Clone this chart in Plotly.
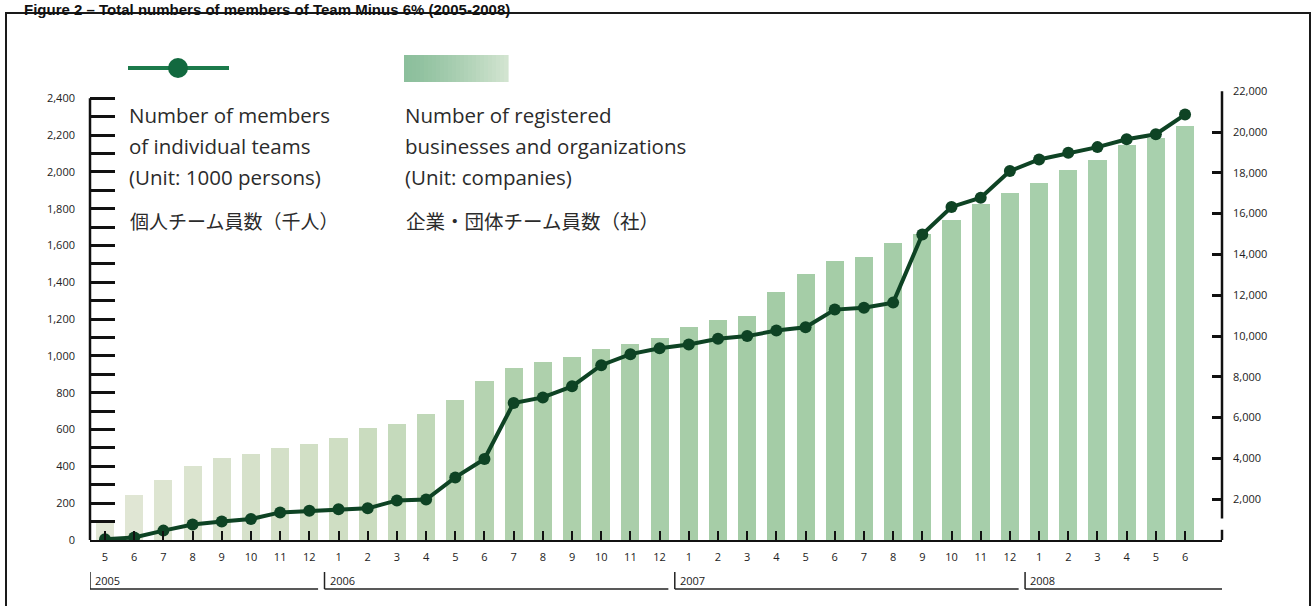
import plotly.graph_objects as go

# ---------------- data ----------------
months = ["5", "6", "7", "8", "9", "10", "11", "12",
          "1", "2", "3", "4", "5", "6", "7", "8", "9", "10", "11", "12",
          "1", "2", "3", "4", "5", "6", "7", "8", "9", "10", "11", "12",
          "1", "2", "3", "4", "5", "6"]
years = ["2005", "2006", "2007", "2008"]
year_start_index = [0, 8, 20, 32]

# registered businesses and organizations (companies) - right axis
companies = [900, 2200, 2920, 3620, 4000, 4240, 4500, 4730, 5020, 5470, 5680, 6160,
             6880, 7770, 8450, 8710, 8990, 9340, 9600, 9880,
             10420, 10800, 10960, 12170, 13050, 13700, 13880, 14580, 15000, 15700,
             16450, 17020, 17510, 18150, 18650, 19380, 19700, 20300]

# members of individual teams (1000 persons) - left axis
members = [4, 14, 51, 84, 100, 114, 150, 159, 167, 172, 215, 220,
           340, 440, 745, 775, 835, 950, 1010, 1042,
           1062, 1094, 1108, 1138, 1156, 1252, 1262, 1290, 1660, 1810,
           1860, 2005, 2068, 2104, 2135, 2178, 2205, 2312]

left_ticks = list(range(0, 2401, 200))
right_ticks = list(range(2000, 22001, 2000))

# ---------------- geometry helpers ----------------
W, H = 1314, 606
L, R, T, B = 90, 1222, 91, 540


def px2x(px):
    return (px - L) / (R - L)


def px2y(py):
    return (B - py) / (B - T)


def mix(c1, c2, t):
    a = [int(c1[i:i + 2], 16) for i in (1, 3, 5)]
    b = [int(c2[i:i + 2], 16) for i in (1, 3, 5)]
    return "#" + "".join(f"{round(a[k] + (b[k] - a[k]) * t):02x}" for k in range(3))


anchors = [(0, "#e2e7d6"), (8, "#cfdec3"), (14, "#b0d1ad"), (22, "#a4cca6"), (37, "#a8d0ad")]


def bar_color(i):
    for (i0, c0), (i1, c1) in zip(anchors[:-1], anchors[1:]):
        if i0 <= i <= i1:
            return mix(c0, c1, (i - i0) / (i1 - i0))
    return anchors[-1][1]


n = len(months)
xs = list(range(n))
xmin = -15 / 29.19
xmax = xmin + (R - L) / 29.19

fig = go.Figure()
fig.add_trace(go.Bar(
    x=xs, y=companies, width=0.62,
    marker=dict(color=[bar_color(i) for i in xs], line=dict(width=0)),
    yaxis="y", showlegend=False, hoverinfo="y"))
fig.add_trace(go.Scatter(
    x=xs, y=members, mode="lines+markers",
    line=dict(color="#0e4324", width=4),
    marker=dict(color="#0e4324", size=12),
    yaxis="y2", showlegend=False))

tickfont = dict(family="Open Sans", size=11, color="#222222")

fig.update_layout(
    width=W, height=H,
    margin=dict(l=L, r=W - R, t=T, b=H - B),
    paper_bgcolor="white", plot_bgcolor="white",
    bargap=0,
    xaxis=dict(range=[xmin, xmax], tickvals=xs, ticktext=months,
               showgrid=False, zeroline=False, showline=True, linecolor="#111111",
               linewidth=2, ticks="inside", ticklen=9, tickwidth=2, tickcolor="#111111",
               tickfont=tickfont, ticklabelstandoff=6),
    yaxis=dict(range=[0, 22010], side="right", tickvals=right_ticks,
               tickformat=",d", showgrid=False, zeroline=False, showline=False,
               ticks="inside", ticklen=10, tickwidth=3, tickcolor="#111111",
               tickfont=tickfont, ticklabelstandoff=10),
    yaxis2=dict(range=[0, 2440], overlaying="y", side="left", tickvals=left_ticks,
                tickformat=",d", showgrid=False, zeroline=False, showline=False,
                ticks="inside", ticklen=25, tickwidth=3, tickcolor="#111111",
                minor=dict(dtick=100, ticks="inside", ticklen=25, tickwidth=3,
                           tickcolor="#111111"),
                tickfont=tickfont, ticklabelstandoff=14),
)

shapes = []
# axis lines
shapes.append(dict(type="line", xref="paper", yref="y2", x0=0, x1=0, y0=0, y1=2400,
                   line=dict(color="#111111", width=2.5)))
shapes.append(dict(type="line", xref="paper", yref="y", x0=1, x1=1, y0=1050, y1=22000,
                   line=dict(color="#111111", width=2.5)))
shapes.append(dict(type="line", xref="paper", yref="y", x0=1, x1=1, y0=0, y1=500,
                   line=dict(color="#111111", width=2.5)))
# year brackets
bounds = [xmin] + [s - 0.5 for s in year_start_index[1:]] + [xmax]
for k, yr in enumerate(years):
    x0 = bounds[k] if k == 0 else bounds[k] + 0.02
    x1 = bounds[k + 1] - 0.2 if k < len(years) - 1 else bounds[k + 1]
    shapes.append(dict(type="line", xref="x", yref="paper", x0=x0, x1=x0,
                       y0=px2y(572), y1=px2y(589), line=dict(color="#222222", width=1.5)))
    shapes.append(dict(type="line", xref="x", yref="paper", x0=x0, x1=x1,
                       y0=px2y(589), y1=px2y(589), line=dict(color="#222222", width=1.5)))
    fig.add_annotation(x=x0, xref="x", y=px2y(580), yref="paper", text=yr,
                       showarrow=False, xanchor="left", yanchor="middle", xshift=3,
                       font=dict(family="Open Sans", size=11, color="#222222"))
# legend line sample
shapes.append(dict(type="line", xref="paper", yref="paper", x0=px2x(128), x1=px2x(229),
                   y0=px2y(68), y1=px2y(68), line=dict(color="#1c7a4b", width=4)))
shapes.append(dict(type="circle", xref="paper", yref="paper", x0=px2x(168), x1=px2x(188),
                   y0=px2y(78), y1=px2y(58), fillcolor="#12693f", line=dict(width=0)))
# legend bar sample (gradient)
nslice = 26
for k in range(nslice):
    t = k / (nslice - 1)
    c = mix("#8cbf9c", "#d2e4d0", t ** 1.3)
    shapes.append(dict(type="rect", xref="paper", yref="paper",
                       x0=px2x(404 + 104 * k / nslice), x1=px2x(404 + 104 * (k + 1) / nslice + 0.6),
                       y0=px2y(82), y1=px2y(55), fillcolor=c, line=dict(width=0)))
# outer frame
shapes.append(dict(type="rect", xref="paper", yref="paper", x0=px2x(6), x1=px2x(1310),
                   y0=px2y(625), y1=px2y(13), line=dict(color="#1a1a1a", width=2)))
fig.update_layout(shapes=shapes)

legend_font = dict(family="Open Sans", size=20.5, color="#2b2b2b")
left_lines = ["Number of members", "of individual teams", "(Unit: 1000 persons)"]
right_lines = ["Number of registered", "businesses and organizations", "(Unit: companies)"]
for j, (a, b) in enumerate(zip(left_lines, right_lines)):
    ypx = 115 + 31 * j
    fig.add_annotation(x=px2x(127), y=px2y(ypx), xref="paper", yref="paper", text=a,
                       showarrow=False, xanchor="left", yanchor="middle", font=legend_font)
    fig.add_annotation(x=px2x(403), y=px2y(ypx), xref="paper", yref="paper", text=b,
                       showarrow=False, xanchor="left", yanchor="middle", font=legend_font)
fig.add_annotation(x=px2x(128), y=px2y(220), xref="paper", yref="paper",
                   text="個人チーム員数（千人）", showarrow=False, xanchor="left",
                   yanchor="middle", font=dict(family="Noto Sans CJK JP", size=19, color="#2b2b2b"))
fig.add_annotation(x=px2x(404), y=px2y(220), xref="paper", yref="paper",
                   text="企業・団体チーム員数（社）", showarrow=False, xanchor="left",
                   yanchor="middle", font=dict(family="Noto Sans CJK JP", size=19.5, color="#2b2b2b"))
# title at the very top
fig.add_annotation(x=px2x(22), y=px2y(-1), xref="paper", yref="paper",
                   text="<b>Figure 2 – Total numbers of members of Team Minus 6% (2005-2008)</b>",
                   showarrow=False, xanchor="left", yanchor="top",
                   font=dict(family="Liberation Sans", size=15, color="#111111"))

fig.write_html("out.html")
